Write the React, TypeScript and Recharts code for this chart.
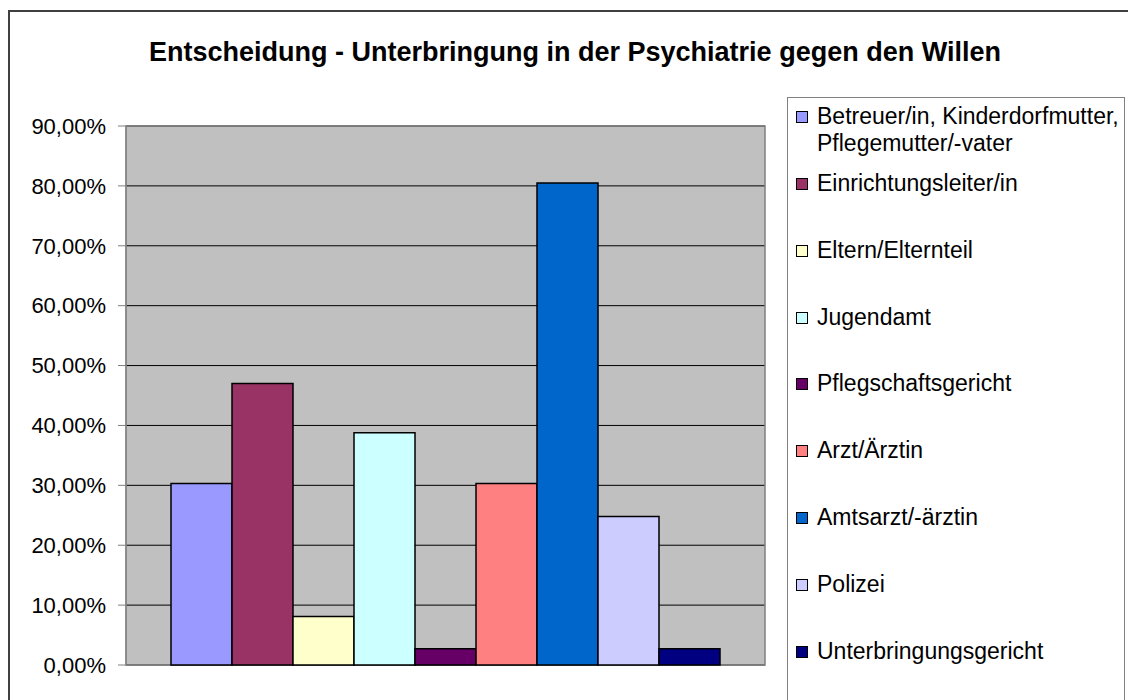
import { BarChart, Bar, XAxis, YAxis, CartesianGrid, ReferenceArea } from 'recharts';

const categories = ['Entscheidung'];

const seriesNames = [
  'Betreuer/in, Kinderdorfmutter, Pflegemutter/-vater',
  'Einrichtungsleiter/in',
  'Eltern/Elternteil',
  'Jugendamt',
  'Pflegschaftsgericht',
  'Arzt/Ärztin',
  'Amtsarzt/-ärztin',
  'Polizei',
  'Unterbringungsgericht',
];

const seriesValues = [30.3, 47.0, 8.1, 38.8, 2.7, 30.3, 80.5, 24.8, 2.7];

const seriesColors = [
  '#9999FF',
  '#993366',
  '#FFFFCC',
  '#CCFFFF',
  '#660066',
  '#FF8080',
  '#0066CC',
  '#CCCCFF',
  '#000080',
];

const yTicks = [0, 10, 20, 30, 40, 50, 60, 70, 80, 90];

const title = 'Entscheidung - Unterbringung in der Psychiatrie gegen den Willen';

const font = '"Liberation Sans", Arial, sans-serif';

const data = categories.map((name) => {
  const row: Record<string, string | number> = { name };
  seriesValues.forEach((v, i) => {
    row[`s${i}`] = v;
  });
  return row;
});

const fmt = (v: number) => `${v.toFixed(2).replace('.', ',')}%`;

function LegendBox() {
  return (
    <div
      style={{
        position: 'absolute',
        left: 787,
        top: 97,
        width: 338,
        height: 640,
        boxSizing: 'border-box',
        border: '1px solid #808080',
        background: '#fff',
        paddingTop: 5,
        paddingLeft: 8,
        fontFamily: font,
        fontSize: 23,
        lineHeight: '27px',
        color: '#000',
      }}
    >
      {seriesNames.map((n, i) => (
        <div
          key={n}
          style={{
            display: 'flex',
            alignItems: 'flex-start',
            marginTop: i === 0 ? 0 : i === 1 ? 13 : 39.8,
          }}
        >
          <span
            style={{
              display: 'inline-block',
              width: 12,
              height: 12,
              boxSizing: 'border-box',
              border: '1px solid #000',
              background: seriesColors[i],
              marginTop: 8,
              marginRight: 9,
              flexShrink: 0,
            }}
          />
          <span style={{ width: 307 }}>{n}</span>
        </div>
      ))}
    </div>
  );
}

export default function App() {
  return (
    <div
      style={{
        position: 'absolute',
        left: 0,
        top: 0,
        width: 1128,
        height: 700,
        overflow: 'hidden',
        background: '#fff',
      }}
    >
      <div
        style={{
          position: 'absolute',
          left: 8,
          top: 10,
          width: 1200,
          height: 800,
          border: '2px solid #404040',
        }}
      />
      <div
        style={{
          position: 'absolute',
          left: 8,
          top: 37,
          width: 1134,
          textAlign: 'center',
          fontFamily: font,
          fontWeight: 'bold',
          fontSize: 27,
          color: '#000',
        }}
      >
        {title}
      </div>
      <div style={{ position: 'absolute', left: 0, top: 0 }}>
        <BarChart
          width={1128}
          height={700}
          data={data}
          margin={{ top: 126, right: 363, bottom: 35, left: 0 }}
          barCategoryGap={45}
          barGap={0}
        >
          <CartesianGrid vertical={false} stroke="#000" fill="#C0C0C0" />
          <XAxis dataKey="name" tick={false} tickLine={false} axisLine={false} height={0} />
          <YAxis
            domain={[0, 90]}
            ticks={yTicks}
            interval={0}
            width={126}
            tickSize={8}
            tickMargin={12}
            tickFormatter={fmt}
            axisLine={{ stroke: '#808080' }}
            tickLine={{ stroke: '#808080' }}
            tick={{ fill: '#000', fontSize: 22, fontFamily: font }}
          />
          {seriesNames.map((n, i) => (
            <Bar
              key={n}
              dataKey={`s${i}`}
              name={n}
              fill={seriesColors[i]}
              stroke="#000"
              strokeWidth={1.5}
              isAnimationActive={false}
            />
          ))}
          <ReferenceArea y1={0} y2={90} fill="none" stroke="#808080" strokeWidth={1.5} />
        </BarChart>
      </div>
      <LegendBox />
    </div>
  );
}
